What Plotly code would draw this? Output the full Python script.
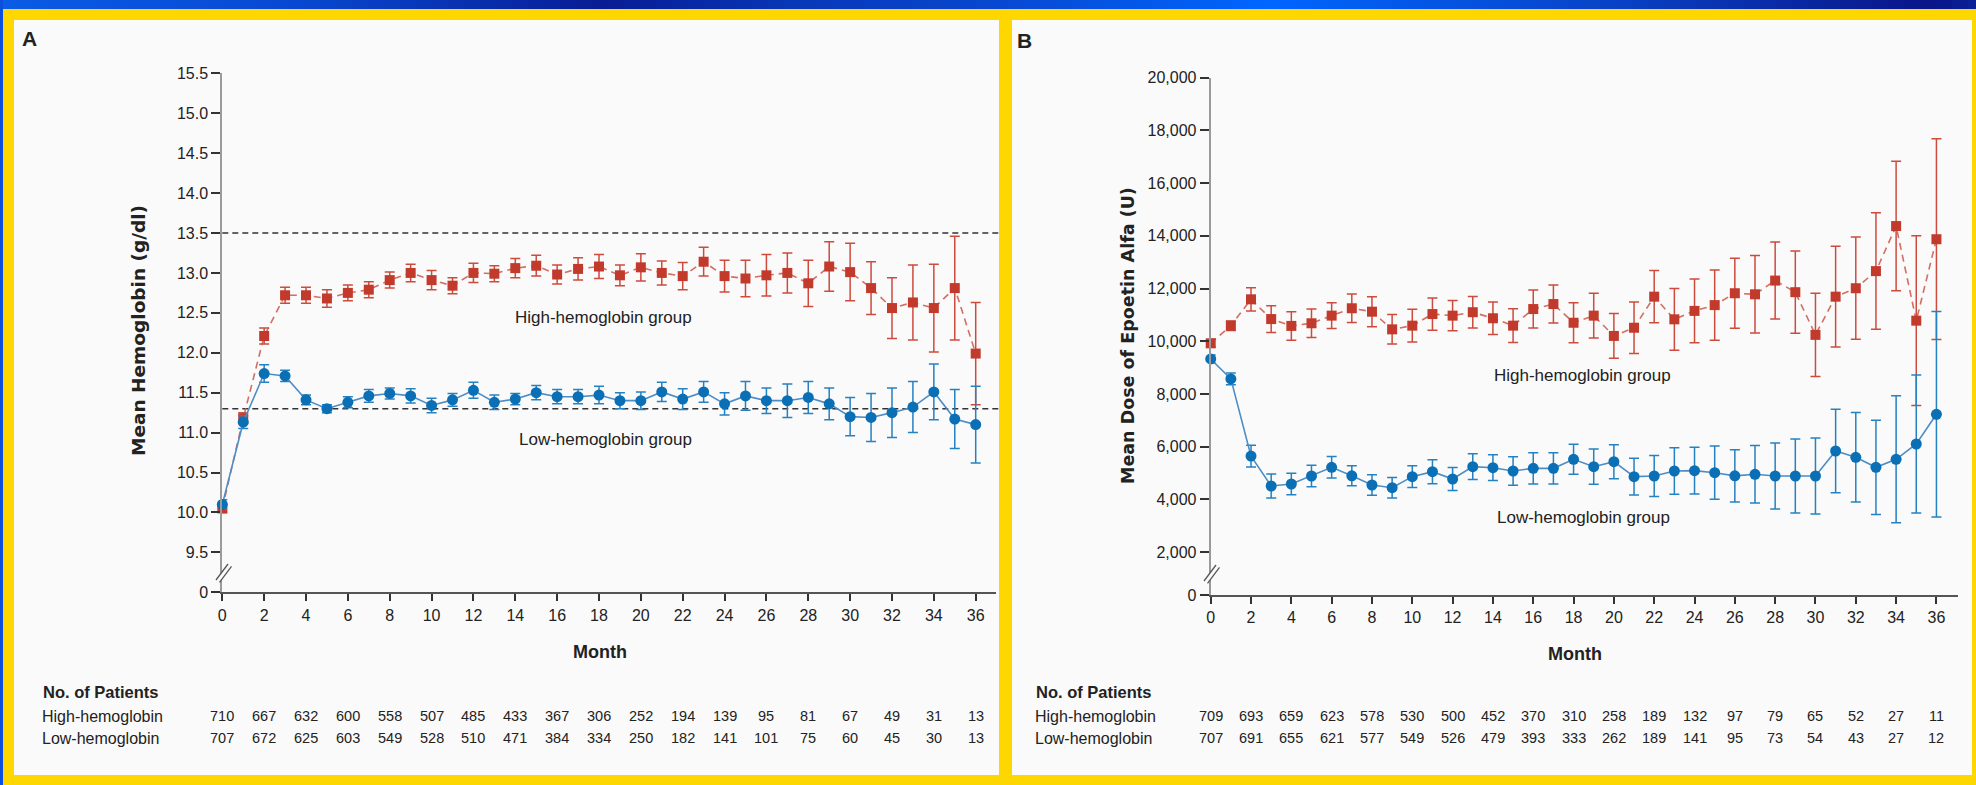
import plotly.graph_objects as go

W, H = 1976, 785

months = list(range(37))
count_months = list(range(0, 37, 2))

# Panel A: mean hemoglobin (g/dl) with 95% CI half-widths
hb_high = [10.05, 11.18, 12.21, 12.72, 12.72, 12.68, 12.75, 12.79, 12.91, 13.00,
           12.91, 12.84, 13.00, 12.99, 13.06, 13.09, 12.98, 13.05, 13.08, 12.97,
           13.07, 13.00, 12.96, 13.14, 12.96, 12.93, 12.97, 13.00, 12.87, 13.08,
           13.01, 12.81, 12.56, 12.63, 12.56, 12.81, 11.99]
hb_high_ci = [0.05, 0.07, 0.10, 0.10, 0.10, 0.11, 0.10, 0.10, 0.10, 0.11,
              0.12, 0.10, 0.12, 0.10, 0.12, 0.13, 0.12, 0.14, 0.15, 0.13,
              0.17, 0.15, 0.17, 0.18, 0.20, 0.23, 0.26, 0.25, 0.29, 0.31,
              0.36, 0.33, 0.38, 0.47, 0.55, 0.65, 0.64]
hb_low = [10.10, 11.13, 11.74, 11.71, 11.41, 11.30, 11.38, 11.46, 11.49, 11.46,
          11.34, 11.41, 11.53, 11.38, 11.42, 11.50, 11.45, 11.45, 11.47, 11.40,
          11.40, 11.51, 11.42, 11.51, 11.36, 11.46, 11.40, 11.40, 11.44, 11.36,
          11.20, 11.19, 11.25, 11.32, 11.51, 11.17, 11.10]
hb_low_ci = [0.06, 0.08, 0.11, 0.07, 0.06, 0.05, 0.07, 0.08, 0.07, 0.09,
             0.09, 0.08, 0.10, 0.09, 0.07, 0.09, 0.09, 0.09, 0.11, 0.10,
             0.11, 0.12, 0.13, 0.13, 0.14, 0.18, 0.16, 0.21, 0.20, 0.20,
             0.24, 0.30, 0.31, 0.32, 0.35, 0.37, 0.48]
hb_targets = [13.5, 11.3]

# Panel B: mean dose of epoetin alfa (U) with 95% CI half-widths
dose_high = [9920, 10590, 11590, 10840, 10580, 10680, 10970, 11250, 11120, 10450,
             10590, 11030, 10970, 11100, 10870, 10590, 11220, 11410, 10700, 10970,
             10200, 10510, 11690, 10830, 11150, 11370, 11820, 11780, 12300, 11860,
             10240, 11690, 12010, 12660, 14370, 10780, 13870]
dose_high_ci = [150, 180, 440, 510, 540, 540, 490, 540, 570, 560,
                620, 610, 570, 600, 620, 640, 720, 720, 760, 850,
                850, 980, 990, 1170, 1210, 1330, 1330, 1470, 1460, 1560,
                1580, 1910, 1940, 2210, 2460, 3220, 3810]
dose_low = [9325, 8570, 5640, 4505, 4580, 4884, 5214, 4890, 4543, 4440,
            4860, 5048, 4770, 5238, 5200, 5074, 5175, 5175, 5518, 5238,
            5427, 4860, 4884, 5074, 5087, 5010, 4890, 4948, 4884, 4884,
            4884, 5833, 5594, 5214, 5518, 6099, 7225]
dose_low_ci = [150, 220, 410, 455, 410, 410, 410, 380, 390, 390,
               410, 455, 440, 490, 490, 540, 590, 590, 570, 670,
               645, 700, 780, 880, 885, 1010, 990, 1090, 1250, 1400,
               1440, 1580, 1700, 1790, 2410, 2620, 3900]

# Number of patients at each 2-month visit
pts_hb_high = [710, 667, 632, 600, 558, 507, 485, 433, 367, 306, 252, 194, 139, 95, 81, 67, 49, 31, 13]
pts_hb_low = [707, 672, 625, 603, 549, 528, 510, 471, 384, 334, 250, 182, 141, 101, 75, 60, 45, 30, 13]
pts_dose_high = [709, 693, 659, 623, 578, 530, 500, 452, 370, 310, 258, 189, 132, 97, 79, 65, 52, 27, 11]
pts_dose_low = [707, 691, 655, 621, 577, 549, 526, 479, 393, 333, 262, 189, 141, 95, 73, 54, 43, 27, 12]

hb_ticks = [9.5 + 0.5 * i for i in range(13)]
dose_ticks = [2000 * i for i in range(1, 11)]
x_ticks = list(range(0, 37, 2))

RED = "#C23A2B"
RED_LINE = "rgba(205,95,82,0.9)"
RED_ERR = "#CD4B3D"
BLUE = "#0A6FB5"
BLUE_LINE = "#4C8DC6"
BLUE_ERR = "#2481C2"
YELLOW = "#FFD700"
PANEL = "#FAFAFA"
TXT = "#222222"

SANS = "Liberation Sans, Arial, sans-serif"
WIDE = "DejaVu Sans, Verdana, sans-serif"


def fx(px):
    return px / W


def fy(py):
    return 1 - py / H


def errs(vals, color):
    return dict(type="data", array=vals, visible=True, color=color, thickness=1.5, width=5)


fig = go.Figure()

# --- Panel A traces
fig.add_trace(go.Scatter(
    x=months, y=hb_high, mode="lines+markers", xaxis="x", yaxis="y",
    line=dict(color=RED_LINE, width=1.6, dash="7px,5px"),
    marker=dict(symbol="square", size=10, color=RED),
    error_y=errs(hb_high_ci, RED_ERR), cliponaxis=False, showlegend=False))
fig.add_trace(go.Scatter(
    x=months, y=hb_low, mode="lines+markers", xaxis="x", yaxis="y",
    line=dict(color=BLUE_LINE, width=1.6),
    marker=dict(symbol="circle", size=11, color=BLUE),
    error_y=errs(hb_low_ci, BLUE_ERR), cliponaxis=False, showlegend=False))

# --- Panel B traces
fig.add_trace(go.Scatter(
    x=months, y=dose_high, mode="lines+markers", xaxis="x2", yaxis="y2",
    line=dict(color=RED_LINE, width=1.6, dash="7px,5px"),
    marker=dict(symbol="square", size=10, color=RED),
    error_y=errs(dose_high_ci, RED_ERR), cliponaxis=False, showlegend=False))
fig.add_trace(go.Scatter(
    x=months, y=dose_low, mode="lines+markers", xaxis="x2", yaxis="y2",
    line=dict(color=BLUE_LINE, width=1.6),
    marker=dict(symbol="circle", size=11, color=BLUE),
    error_y=errs(dose_low_ci, BLUE_ERR), cliponaxis=False, showlegend=False))

shapes = []

# top band with a horizontal blue gradient
stops = [(0, (10, 92, 230)), (300, (8, 72, 208)), (606, (8, 28, 148)), (800, (8, 56, 184)),
         (1000, (8, 72, 208)), (1268, (0, 102, 255)), (1600, (8, 68, 200)),
         (1933, (10, 20, 136)), (1976, (10, 32, 152))]


def grad(x):
    for (x0, c0), (x1, c1) in zip(stops[:-1], stops[1:]):
        if x0 <= x <= x1:
            t = (x - x0) / (x1 - x0)
            return "rgb(%d,%d,%d)" % tuple(round(a + (b - a) * t) for a, b in zip(c0, c1))
    return "rgb(10,32,152)"


step = 16
for x0 in range(0, W, step):
    shapes.append(dict(type="rect", xref="paper", yref="paper", layer="below",
                       x0=fx(x0), x1=fx(min(x0 + step + 1, W)), y0=fy(9), y1=1,
                       line=dict(width=0), fillcolor=grad(x0 + step / 2)))
shapes.append(dict(type="rect", xref="paper", yref="paper", layer="below",
                   x0=0, x1=fx(3), y0=0, y1=1, line=dict(width=0), fillcolor="rgb(10,80,220)"))

# white panels
for (x0, x1) in [(14, 999), (1012, 1972)]:
    shapes.append(dict(type="rect", xref="paper", yref="paper", layer="below",
                       x0=fx(x0), x1=fx(x1), y0=fy(775), y1=fy(20),
                       line=dict(width=0), fillcolor=PANEL))

# target hemoglobin levels
for t in hb_targets:
    shapes.append(dict(type="line", xref="x domain", yref="y", layer="below",
                       x0=0, x1=1.003, y0=t, y1=t,
                       line=dict(color="#333333", width=1.5, dash="6px,4px")))

# axis-break marks
for cx, cy in [(223, 572), (1211, 573)]:
    shapes.append(dict(type="path", xref="paper", yref="paper", layer="above",
                       path="M %f %f L %f %f L %f %f L %f %f Z" % (
                           fx(cx - 6.5), fy(cy + 7.5), fx(cx + 4.5), fy(cy - 7.5),
                           fx(cx + 8), fy(cy - 5), fx(cx - 3), fy(cy + 10)),
                       line=dict(width=0), fillcolor=PANEL))
    for d in (0, 3.5):
        shapes.append(dict(type="line", xref="paper", yref="paper", layer="above",
                           x0=fx(cx - 7 + d), y0=fy(cy + 8 + d * 0.7),
                           x1=fx(cx + 5 + d), y1=fy(cy - 8 + d * 0.7),
                           line=dict(color="#555555", width=1.3)))

annotations = []


def text(x, y, s, size, family=SANS, xanchor="left", xref="paper", angle=0, color=TXT):
    annotations.append(dict(x=x, y=y, xref=xref, yref="paper", text=s, showarrow=False,
                            xanchor=xanchor, yanchor="middle", textangle=angle,
                            font=dict(family=family, size=size, color=color)))


text(fx(20), fy(39), "<b>A</b>", 21)
text(fx(1015), fy(41), "<b>B</b>", 21)

text(fx(138), fy(331), "<b>Mean Hemoglobin (g/dl)</b>", 18.5, WIDE, "center", angle=-90)
text(fx(1128), fy(336), "<b>Mean Dose of Epoetin Alfa (U)</b>", 17.5, WIDE, "center", angle=-90)

text(fx(600), fy(652), "<b>Month</b>", 18, SANS, "center")
text(fx(1575), fy(654), "<b>Month</b>", 18, SANS, "center")

text(fx(513), fy(317), "High-hemoglobin group", 17)
text(fx(517), fy(439), "Low-hemoglobin group", 17)
text(fx(1492), fy(375), "High-hemoglobin group", 17)
text(fx(1495), fy(517), "Low-hemoglobin group", 17)

for left, xref, hi, lo in [(41, "x", pts_hb_high, pts_hb_low),
                           (1034, "x2", pts_dose_high, pts_dose_low)]:
    text(fx(left), fy(692), "<b>No. of Patients</b>", 16.5)
    text(fx(left - 1), fy(716), "High-hemoglobin", 16)
    text(fx(left - 1), fy(738), "Low-hemoglobin", 16)
    for m, a, b in zip(count_months, hi, lo):
        text(m, fy(716), str(a), 14.5, SANS, "center", xref=xref)
        text(m, fy(738), str(b), 14.5, SANS, "center", xref=xref)

tickfont = dict(family=SANS, size=16, color=TXT)
xcommon = dict(tickvals=x_ticks, ticks="outside", ticklen=7, tickwidth=1.5, tickcolor="#333333",
               showline=True, linecolor="#555555", linewidth=2, showgrid=False, zeroline=False,
               tickfont=tickfont, automargin=False, fixedrange=True)
ycommon = dict(ticks="outside", ticklen=9, tickwidth=1.5, tickcolor="#333333",
               showline=True, linecolor="#9A9A9A", linewidth=2, showgrid=False, zeroline=False,
               tickfont=tickfont, automargin=False, fixedrange=True)

dose_zero = 368  # position of the broken-axis zero label

fig.update_layout(
    width=W, height=H,
    margin=dict(l=0, r=0, t=0, b=0),
    paper_bgcolor=YELLOW, plot_bgcolor="rgba(0,0,0,0)",
    showlegend=False,
    xaxis=dict(domain=[fx(222.3), fx(996)], range=[0, 36.97], anchor="y", **xcommon),
    yaxis=dict(domain=[fy(592.3), fy(73.3)], range=[9.0, 15.5], anchor="x",
               tickvals=[9.0] + hb_ticks, ticktext=["0"] + ["%.1f" % v for v in hb_ticks],
               **ycommon),
    xaxis2=dict(domain=[fx(1210.7), fx(1958)], range=[0, 37.07], anchor="y2", **xcommon),
    yaxis2=dict(domain=[fy(595), fy(77.7)], range=[dose_zero, 20000], anchor="x2",
                tickvals=[dose_zero] + dose_ticks,
                ticktext=["0"] + ["{:,}".format(v) for v in dose_ticks], **ycommon),
    shapes=shapes,
    annotations=annotations,
)

fig.write_html("out.html")
